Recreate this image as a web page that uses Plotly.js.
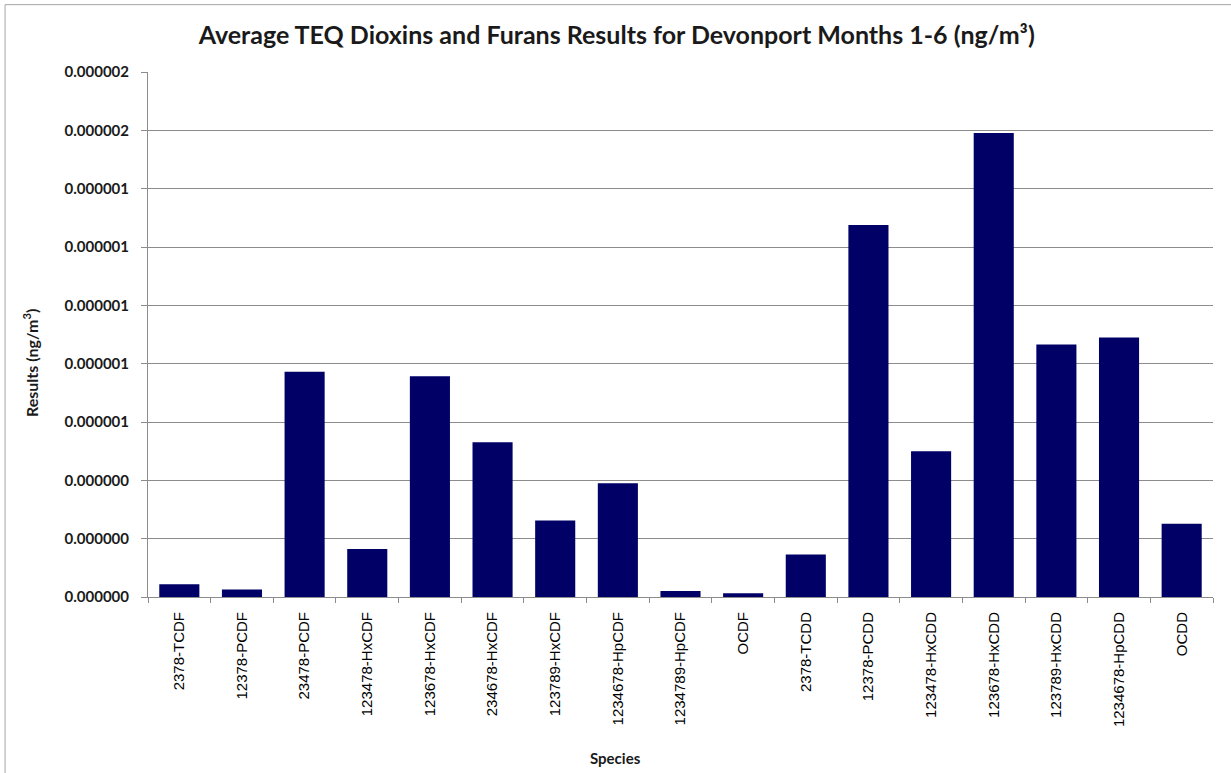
<!DOCTYPE html>
<html>
<head>
<meta charset="utf-8">
<script src="https://cdn.plot.ly/plotly-3.0.1.min.js"></script>
<style>
  html, body { margin: 0; padding: 0; background: #ffffff; }
  #chart { width: 1231px; height: 773px; }
</style>
</head>
<body>
<div id="chart"></div>
<script>
// Congener names along the x axis
const species = [
  "2378-TCDF", "12378-PCDF", "23478-PCDF", "123478-HxCDF", "123678-HxCDF",
  "234678-HxCDF", "123789-HxCDF", "1234678-HpCDF", "1234789-HpCDF", "OCDF",
  "2378-TCDD", "12378-PCDD", "123478-HxCDD", "123678-HxCDD", "123789-HxCDD",
  "1234678-HpCDD", "OCDD"
];

// Average TEQ results, ng/m3
const results = [
  0.0000000436, 0.0000000254, 0.000000772, 0.000000165, 0.000000757,
  0.000000531, 0.000000262, 0.000000390, 0.0000000206, 0.0000000127,
  0.000000146, 0.000001275, 0.000000500, 0.000001591, 0.000000866,
  0.000000890, 0.000000251
];

// Value axis ticks
const yTicks = [0, 0.0000002, 0.0000004, 0.0000006, 0.0000008, 0.000001,
                0.0000012, 0.0000014, 0.0000016, 0.0000018];

const chartTitle = "Average TEQ Dioxins and Furans Results for Devonport Months 1-6 (ng/m³)";
const xTitle = "Species";
const yTitle = "Results (ng/m<sup>3</sup>)";

const gridGrey = "#8c8c8c";
const boldFont = "Lato, 'Open Sans', sans-serif";

const trace = {
  type: "bar",
  x: species,
  y: results,
  marker: { color: "#000066", line: { width: 0 } },
  hoverinfo: "x+y"
};

const layout = {
  width: 1231,
  height: 773,
  margin: { l: 148, r: 18, t: 72, b: 176 },
  paper_bgcolor: "#ffffff",
  plot_bgcolor: "#ffffff",
  bargap: 0.36,
  showlegend: false,
  title: {
    text: chartTitle,
    font: { family: boldFont, size: 25, color: "#1a1a1a", weight: "bold" },
    x: 0.501,
    xanchor: "center",
    y: 0.955,
    yanchor: "middle"
  },
  xaxis: {
    type: "category",
    tickangle: -90,
    tickfont: { family: "'Liberation Sans', Arial, sans-serif", size: 15, color: "#000000" },
    ticks: "outside",
    tickson: "boundaries",
    ticklen: 5,
    tickcolor: gridGrey,
    showline: true,
    linecolor: gridGrey,
    linewidth: 1,
    showgrid: false,
    ticklabelstandoff: 8,
    automargin: false
  },
  yaxis: {
    range: [0, 0.0000018],
    tickvals: yTicks,
    tickformat: ".6f",
    tickfont: { family: boldFont, size: 15, color: "#1a1a1a", weight: "bold" },
    ticks: "outside",
    ticklen: 6,
    tickcolor: gridGrey,
    showline: true,
    linecolor: gridGrey,
    linewidth: 1,
    showgrid: true,
    gridcolor: gridGrey,
    gridwidth: 1,
    zeroline: false,
    ticklabelstandoff: 9,
    automargin: false
  },
  // axis titles, placed where the chart frame puts them
  annotations: [
    { text: xTitle, xref: "paper", yref: "paper", x: 0.4385, y: -0.3067,
      xanchor: "center", yanchor: "middle", showarrow: false,
      font: { family: boldFont, size: 15, color: "#1a1a1a", weight: "bold" } },
    { text: yTitle, xref: "paper", yref: "paper", x: -0.1108, y: 0.4457,
      xanchor: "center", yanchor: "middle", showarrow: false, textangle: -90,
      font: { family: boldFont, size: 16, color: "#1a1a1a", weight: "bold" } }
  ],
  // thin frame along the top and left edge of the chart area
  shapes: [
    { type: "line", xref: "paper", yref: "paper",
      x0: -0.1342, x1: 1.02, y0: 1.1283, y1: 1.1283,
      line: { color: "#a6a6a6", width: 1 } },
    { type: "line", xref: "paper", yref: "paper",
      x0: -0.1342, x1: -0.1342, y0: 1.1283, y1: -0.34,
      line: { color: "#a6a6a6", width: 1 } }
  ]
};

Plotly.newPlot("chart", [trace], layout, { displayModeBar: false, staticPlot: true });
</script>
</body>
</html>
